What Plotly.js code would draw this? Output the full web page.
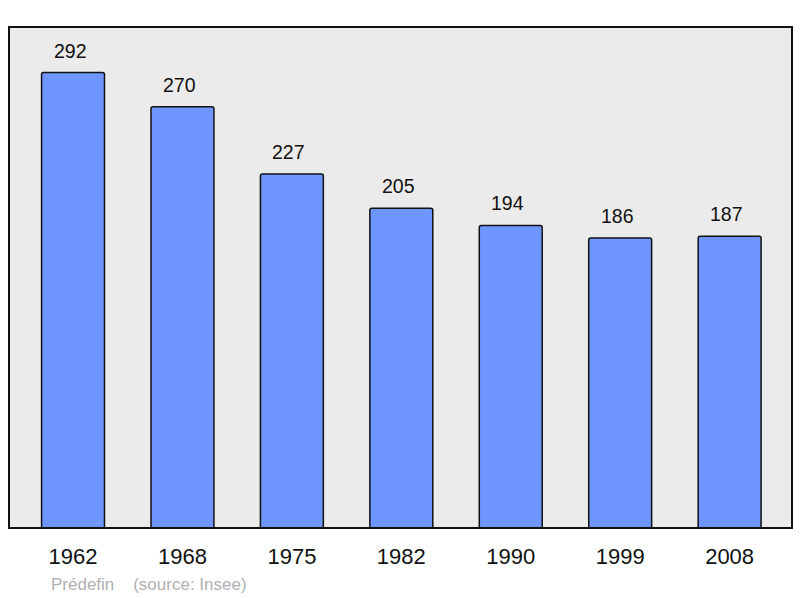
<!DOCTYPE html>
<html>
<head>
<meta charset="utf-8">
<script src="https://cdn.plot.ly/plotly-3.0.1.min.js"></script>
<style>html,body{margin:0;padding:0;background:#fff;}#chart{width:800px;height:598px;}</style>
</head>
<body>
<div id="chart"></div>
<script>
const years = ["1962", "1968", "1975", "1982", "1990", "1999", "2008"];
const population = [292, 270, 227, 205, 194, 186, 187];
const footerText = "Prédefin    (source: Insee)";

const idx = years.map((_, i) => i);

const trace = {
  type: "bar",
  x: idx,
  y: population,
  width: 0.575,
  marker: { color: "rgb(111,150,255)", line: { color: "#111", width: 1.5 }, cornerradius: 2 },
  hoverinfo: "none"
};

const annotations = idx.map((i) => ({
  x: i, y: population[i], xref: "x", yref: "y",
  text: String(population[i]), showarrow: false,
  yanchor: "bottom", yshift: 9, xshift: -3,
  font: { family: "Liberation Sans, Arial, sans-serif", size: 19.5, color: "#111" }
}));
annotations.push({
  x: 40 / 783, y: -(584 - 528) / 501, xref: "paper", yref: "paper",
  xanchor: "left", yanchor: "middle", text: footerText, showarrow: false,
  font: { family: "Liberation Sans, Arial, sans-serif", size: 17, color: "#b0b0b0" }
});

const layout = {
  width: 800, height: 598,
  margin: { l: 9, r: 8, t: 27, b: 70 },
  paper_bgcolor: "#ffffff",
  plot_bgcolor: "#ebebeb",
  showlegend: false,
  xaxis: {
    range: [-0.585, 6.57],
    tickvals: idx, ticktext: years,
    showgrid: false, zeroline: false, showline: false, ticks: "",
    ticklabelstandoff: 13,
    tickfont: { family: "Liberation Sans, Arial, sans-serif", size: 22, color: "#111" },
    fixedrange: true
  },
  yaxis: { range: [0, 321.2], visible: false, fixedrange: true },
  annotations: annotations,
  shapes: [{
    type: "rect", xref: "paper", yref: "paper", x0: 0, x1: 1, y0: 0, y1: 1,
    line: { color: "#111", width: 2 }, fillcolor: "rgba(0,0,0,0)", layer: "above"
  }]
};

Plotly.newPlot("chart", [trace], layout, { displayModeBar: false, staticPlot: true });
</script>
</body>
</html>
